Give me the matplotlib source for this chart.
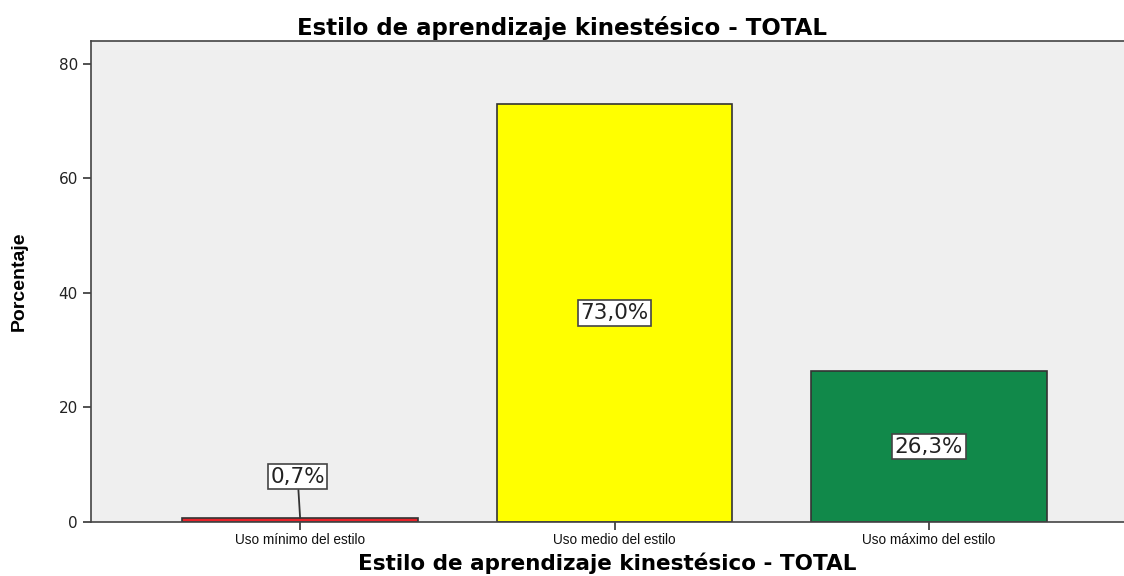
import matplotlib
matplotlib.use("Agg")
import matplotlib.pyplot as plt

categorias = ["Uso mínimo del estilo", "Uso medio del estilo", "Uso máximo del estilo"]
porcentajes = [0.7, 73.0, 26.3]
etiquetas = ["0,7%", "73,0%", "26,3%"]
colores = ["#e8232a", "#ffff00", "#11894a"]

titulo = "Estilo de aprendizaje kinestésico - TOTAL"

plt.rcParams["font.family"] = ["Liberation Sans", "DejaVu Sans"]

fig = plt.figure(figsize=(11.24, 5.76), dpi=100)
ax = fig.add_axes([91 / 1124, 1 - 522 / 576, 1 - 91 / 1124, (522 - 41) / 576])
ax.set_facecolor("#efefef")

x = list(range(len(categorias)))
ax.bar(x, porcentajes, width=0.75, color=colores, edgecolor="#333333", linewidth=1.2, zorder=2)

# etiquetas de valor
for i, (v, t) in enumerate(zip(porcentajes, etiquetas)):
    caja = dict(boxstyle="square,pad=0.12", facecolor="white", edgecolor="#444444", linewidth=1.2)
    if v < 5:
        ax.annotate(t, xy=(i, v), xytext=(i - 0.008, 7.9), ha="center", va="center",
                    fontsize=15.5, family="DejaVu Sans", color="#222222", bbox=caja, zorder=3,
                    arrowprops=dict(arrowstyle="-", color="#333333", lw=1.3, shrinkA=0, shrinkB=0))
    else:
        ax.text(i, v / 2, t, ha="center", va="center", fontsize=15.5, family="DejaVu Sans",
                color="#222222", bbox=caja, zorder=3)

ax.set_xlim(-0.665, 2.62)
ax.set_ylim(0, 84)
ax.set_yticks([0, 20, 40, 60, 80])
ax.set_xticks(x)
ax.set_xticklabels(categorias, fontsize=9.8)
ax.tick_params(axis="y", labelsize=11, length=6, width=1.2, colors="#333333", labelcolor="#222222")
ax.tick_params(axis="x", length=6, width=1.2, colors="#333333", labelcolor="#111111", pad=2)
for lab in ax.get_yticklabels():
    lab.set_family("DejaVu Sans")

for s in ["top", "left", "bottom"]:
    ax.spines[s].set_color("#444444")
    ax.spines[s].set_linewidth(1.2)
ax.spines["right"].set_visible(False)

# titulo centrado en la figura, no en los ejes
ax.set_title(titulo, fontsize=16.5, fontweight="bold", family="DejaVu Sans", pad=4,
             x=(562 - 91) / 1033)
ax.set_xlabel(titulo, fontsize=15.5, fontweight="bold", family="DejaVu Sans", labelpad=4)
ax.set_ylabel("Porcentaje", fontsize=14, fontweight="bold",
              family=["Liberation Sans Narrow", "Liberation Sans"], labelpad=22)

fig.savefig("out.png", dpi=100)
